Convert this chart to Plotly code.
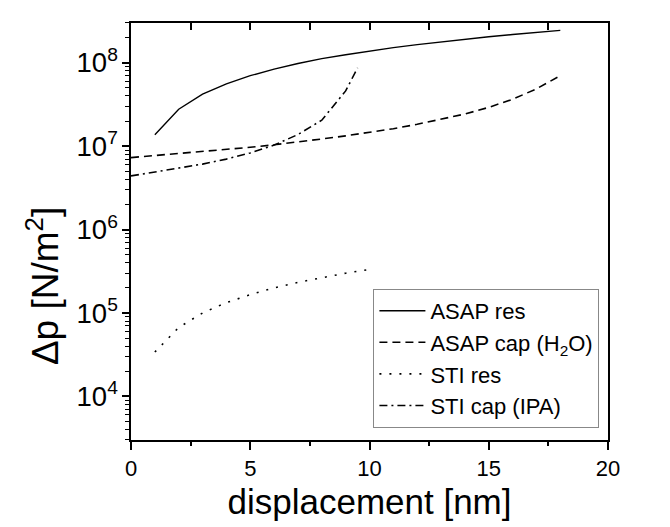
import plotly.graph_objects as go

# ---- data ----
asap_res_x = [1, 2, 3, 4, 5, 6, 7, 8, 9, 10, 11, 12, 13, 14, 15, 16, 17, 18]
asap_res_y = [1.37e7, 2.77e7, 4.2e7, 5.6e7, 7.0e7, 8.4e7, 9.8e7, 1.12e8, 1.25e8,
              1.39e8, 1.52e8, 1.65e8, 1.78e8, 1.92e8, 2.05e8, 2.18e8, 2.32e8, 2.45e8]

asap_cap_x = [0, 1, 2, 3, 4, 5, 6, 7, 8, 9, 10, 11, 12, 13, 14, 15, 16, 17, 18]
asap_cap_y = [7.3e6, 7.7e6, 8.1e6, 8.6e6, 9.1e6, 9.7e6, 1.04e7, 1.12e7, 1.22e7, 1.33e7,
              1.46e7, 1.62e7, 1.83e7, 2.09e7, 2.43e7, 2.92e7, 3.65e7, 4.87e7, 7.0e7]

sti_res_x = [1, 2, 3, 4, 5, 6, 7, 8, 9, 10]
sti_res_y = [3.4e4, 6.7e4, 1.0e5, 1.33e5, 1.66e5, 2.0e5, 2.33e5, 2.66e5, 3.0e5, 3.33e5]

sti_cap_x = [0, 1, 2, 3, 4, 5, 6, 7, 8, 9, 9.5]
sti_cap_y = [4.4e6, 4.9e6, 5.4e6, 6.1e6, 7.0e6, 8.3e6, 1.03e7, 1.38e7, 2.05e7, 4.6e7, 8.7e7]

names = ["ASAP res", "ASAP cap (H<sub>2</sub>O)", "STI res", "STI cap (IPA)"]
x_title = "displacement [nm]"
y_title = "Δp [N/m<sup>2</sup>]"

FONT = "Liberation Sans, Arial, sans-serif"

fig = go.Figure()
fig.add_trace(go.Scatter(x=asap_res_x, y=asap_res_y, mode="lines", name=names[0],
                         line=dict(color="black", width=1.4)))
fig.add_trace(go.Scatter(x=asap_cap_x, y=asap_cap_y, mode="lines", name=names[1],
                         line=dict(color="black", width=1.6, dash="8px,5px")))
fig.add_trace(go.Scatter(x=sti_res_x, y=sti_res_y, mode="lines", name=names[2],
                         line=dict(color="black", width=1.6, dash="2px,8px")))
fig.add_trace(go.Scatter(x=sti_cap_x, y=sti_cap_y, mode="lines", name=names[3],
                         line=dict(color="black", width=1.6, dash="8px,4px,2px,4px")))

fig.update_layout(
    width=670, height=527,
    margin=dict(l=123, r=70, t=15, b=95),
    paper_bgcolor="white", plot_bgcolor="white",
    font=dict(family=FONT, color="black", size=22),
    showlegend=True,
    legend=dict(
        x=0.982, y=0.029, xanchor="right", yanchor="bottom",
        bgcolor="white", bordercolor="#888888", borderwidth=1,
        font=dict(family=FONT, size=22, color="black"),
        tracegroupgap=0, itemwidth=46,
    ),
    xaxis=dict(
        range=[0, 20], dtick=5, tick0=0,
        showgrid=False, zeroline=False,
        showline=True, linecolor="black", linewidth=1.5, mirror=True,
        ticks="outside", ticklen=8, tickwidth=1.5, tickcolor="black",
        minor=dict(dtick=2.5, ticks="outside", ticklen=4, tickwidth=1.5, tickcolor="black"),
        tickfont=dict(size=22),
        title=dict(text=x_title, font=dict(size=35), standoff=9),
    ),
    xaxis2=dict(
        range=[0, 20], overlaying="x", side="top", dtick=2.5, tick0=0,
        showgrid=False, zeroline=False, showline=False,
        ticks="inside", ticklen=7, tickwidth=1.5, tickcolor="black",
        showticklabels=False,
    ),
    yaxis=dict(
        type="log", range=[3.477, 8.477], dtick=1,
        showgrid=False, zeroline=False,
        showline=True, linecolor="black", linewidth=1.5, mirror=True,
        ticks="outside", ticklen=7, tickwidth=1.5, tickcolor="black",
        minor=dict(dtick="D1", ticks="outside", ticklen=4, tickwidth=1.2, tickcolor="black"),
        exponentformat="power", showexponent="all",
        tickfont=dict(size=22),
    ),
    annotations=[dict(
        text=y_title, textangle=-90, showarrow=False,
        xref="paper", yref="paper", x=-0.1845, y=0.369,
        xanchor="center", yanchor="middle",
        font=dict(family=FONT, size=37, color="black"),
    )],
)
# invisible trace anchoring the top (inside-tick) axis
fig.add_trace(go.Scatter(x=[0, 20], y=[1e5, 1e5], xaxis="x2", mode="lines",
                         line=dict(width=0), showlegend=False, hoverinfo="skip"))

fig.write_html("out.html")
